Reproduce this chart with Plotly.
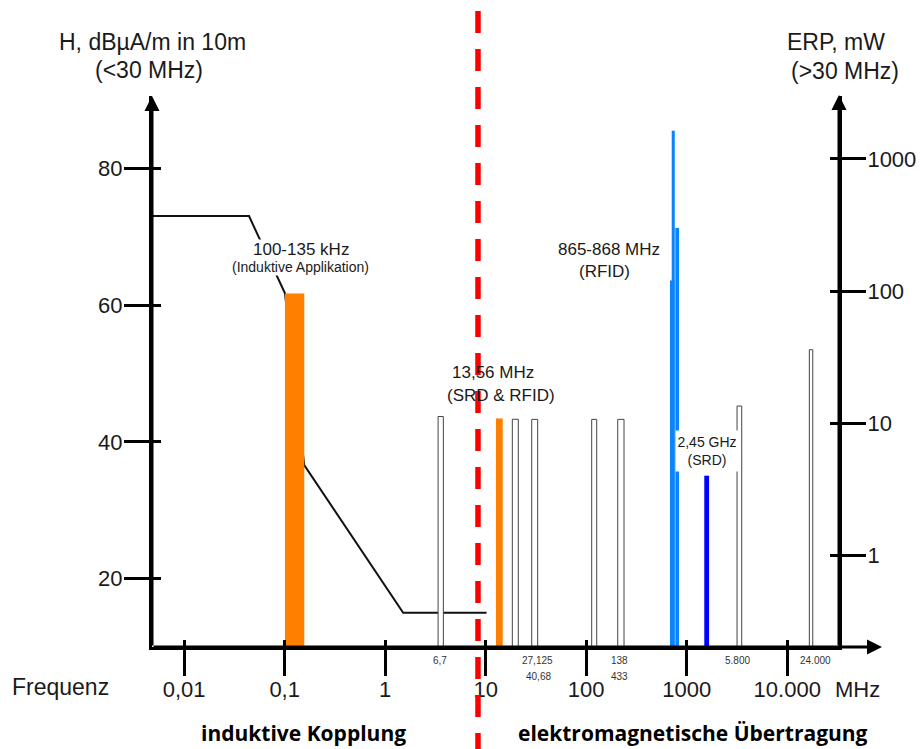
import math
import plotly.graph_objects as go

# ---------------- data ----------------
# H-field limit curve (left axis, dBµA/m in 10 m)
limit_f = [0.0048, 0.0442, 0.1007, 0.1565, 1.51, 10.2]
limit_h = [73.0, 73.0, 61.7, 36.6, 15.0, 15.0]

# bands read on the H axis (< 30 MHz)
h_band_lo = [0.1007, 3.36, 12.66, 18.4]
h_band_hi = [0.1565, 3.79, 14.76, 21.1]
h_band_val = [61.7, 43.7, 43.4, 43.3]
h_band_kind = ["orange", "ism", "orange", "ism"]

# bands read on the ERP axis (> 30 MHz), mW
erp_lo = [28.7, 113.4, 205.8, 682, 710, 771, 1496, 3167, 16590]
erp_hi = [32.9, 127.2, 237.8, 753, 760, 838, 1667, 3526, 17940]
erp_val = [10.7, 10.7, 10.7, 120, 1630, 300, 4.0, 13.5, 36]
erp_kind = ["ism", "ism", "ism", "uhf", "uhf", "uhf", "srd", "ism", "ism"]

# small band labels under the frequency axis
sub_labels = ["6,7", "27,125", "40,68", "138", "433", "5.800", "24.000"]
sub_label_f = [3.5, 32.4, 33.9, 212, 212, 3214, 18900]
sub_label_row = [0, 0, 1, 0, 1, 0, 0]

# axis ticks
x_tickvals = [0.01, 0.1, 1, 10, 100, 1000, 10000]
x_ticktext = ["0,01", "0,1", "1", "10", "100", "1000", "10.000"]
h_tickvals = [20, 40, 60, 80]
erp_tickvals = [1, 10, 100, 1000]
erp_ticktext = ["1", "10", "100", "1000"]

boundary_f = 8.38  # position of the dashed separation line

# ---------------- styling ----------------
FONT = "Liberation Sans, Arial, sans-serif"
TXT = "#1a1a1a"
KIND_STYLE = {
    "orange": dict(fill="#FF8000", line="#FF8000", w=0),
    "ism": dict(fill="#FFFFFF", line="#444444", w=1),
    "uhf": dict(fill="#0A84FF", line="#0A84FF", w=0),
    "srd": dict(fill="#0000FF", line="#0000FF", w=0),
}

X_RANGE = [-2.320, 4.515]
H_RANGE = [10, 90.56]
ERP_RANGE = [-0.693, 3.476]

fig = go.Figure()

# limit line
fig.add_trace(go.Scatter(x=limit_f, y=limit_h, mode="lines",
                         line=dict(color="#111111", width=2),
                         hoverinfo="skip", showlegend=False))


def rect(x0, x1, base, top):
    return [x0, x0, x1, x1, x0], [base, top, top, base, base]


for lo, hi, v, k in zip(h_band_lo, h_band_hi, h_band_val, h_band_kind):
    st = KIND_STYLE[k]
    xs, ys = rect(lo, hi, H_RANGE[0], v)
    fig.add_trace(go.Scatter(x=xs, y=ys, mode="lines", fill="toself",
                             fillcolor=st["fill"],
                             line=dict(color=st["line"], width=st["w"] if st["w"] else 0.1),
                             hoverinfo="skip", showlegend=False))

for lo, hi, v, k in zip(erp_lo, erp_hi, erp_val, erp_kind):
    st = KIND_STYLE[k]
    xs, ys = rect(lo, hi, 0.05, v)
    fig.add_trace(go.Scatter(x=xs, y=ys, mode="lines", fill="toself",
                             fillcolor=st["fill"],
                             line=dict(color=st["line"], width=st["w"] if st["w"] else 0.1),
                             yaxis="y2", hoverinfo="skip", showlegend=False))

# dummy traces so that the "inside" tick overlay axes are drawn
fig.add_trace(go.Scatter(x=[None], y=[None], xaxis="x2", yaxis="y", showlegend=False, hoverinfo="skip"))
fig.add_trace(go.Scatter(x=[None], y=[None], xaxis="x", yaxis="y3", showlegend=False, hoverinfo="skip"))
fig.add_trace(go.Scatter(x=[None], y=[None], xaxis="x", yaxis="y4", showlegend=False, hoverinfo="skip"))

tickfont = dict(family=FONT, size=22, color=TXT)

fig.update_layout(
    width=921, height=749,
    margin=dict(l=152, r=82, t=96, b=102, autoexpand=False),
    paper_bgcolor="white", plot_bgcolor="white",
    showlegend=False,
    font=dict(family=FONT, color=TXT),
    xaxis=dict(type="log", range=X_RANGE, tickvals=x_tickvals, ticktext=x_ticktext,
               ticks="outside", ticklen=26, tickwidth=3, tickcolor="black",
               showline=True, linewidth=3, linecolor="black",
               showgrid=False, zeroline=False, tickfont=tickfont, ticklabelstandoff=-5),
    xaxis2=dict(type="log", range=X_RANGE, overlaying="x", anchor="y", side="bottom",
                tickvals=x_tickvals, ticks="inside", ticklen=7, tickwidth=3, tickcolor="black",
                showticklabels=False, showline=False, showgrid=False, zeroline=False),
    yaxis=dict(range=H_RANGE, tickvals=h_tickvals, ticks="outside", ticklen=25, tickwidth=3,
               tickcolor="black", showline=True, linewidth=3, linecolor="black",
               showgrid=False, zeroline=False, tickfont=tickfont, ticklabelstandoff=-3),
    yaxis2=dict(type="log", range=ERP_RANGE, overlaying="y", side="right", anchor="x",
                tickvals=erp_tickvals, ticks="outside", ticklen=24, tickwidth=3, tickcolor="black",
                ticktext=erp_ticktext,
                showline=True, linewidth=3, linecolor="black",
                showgrid=False, zeroline=False, tickfont=tickfont, ticklabelstandoff=-3),
    yaxis3=dict(range=H_RANGE, overlaying="y", side="left", anchor="x",
                tickvals=h_tickvals, ticks="inside", ticklen=9, tickwidth=3, tickcolor="black",
                showticklabels=False, showline=False, showgrid=False, zeroline=False),
    yaxis4=dict(type="log", range=ERP_RANGE, overlaying="y", side="right", anchor="x",
                tickvals=erp_tickvals, ticks="inside", ticklen=9, tickwidth=3, tickcolor="black",
                showticklabels=False, showline=False, showgrid=False, zeroline=False),
)

# dashed separation line (shapes on log axes take data values)
fig.add_shape(type="line", xref="x", yref="paper",
              x0=boundary_f, x1=boundary_f, y0=1.1543, y1=-0.19,
              line=dict(color="#FF0000", width=5.5, dash="22px,16px"), layer="above")

ann = []
# axis arrows
ann.append(dict(xref="paper", yref="paper", x=0, y=1, ax=0, ay=551, text="", showarrow=True,
                arrowhead=2, arrowsize=1, arrowwidth=3, arrowcolor="black", standoff=0))
ann.append(dict(xref="paper", yref="paper", x=1, y=1.002, ax=0, ay=552, text="", showarrow=True,
                arrowhead=2, arrowsize=1, arrowwidth=3, arrowcolor="black", standoff=0))
ann.append(dict(xref="paper", yref="paper", x=1.0626, y=0, ax=-730, ay=0, text="", showarrow=True,
                arrowhead=2, arrowsize=1, arrowwidth=3, arrowcolor="black", standoff=0))


def ptxt(text, x, y, size, family=FONT, color=TXT, xanchor="center"):
    return dict(xref="paper", yref="paper", x=x, y=y, text=text, showarrow=False,
                xanchor=xanchor, yanchor="middle",
                font=dict(size=size, family=family, color=color))


ann += [
    ptxt("H, dBµA/m in 10m", 0.0, 1.0980, 23),
    ptxt("(&lt;30 MHz)", -0.004, 1.0472, 23),
    ptxt("ERP, mW", 0.9956, 1.0980, 23),
    ptxt("(&gt;30 MHz)", 1.0087, 1.0454, 23),
    ptxt("Frequenz", -0.2067, -0.0726, 23, xanchor="left"),
    ptxt("MHz", 0.9913, -0.078, 22, xanchor="left"),
    ptxt("<b>induktive Kopplung</b>", 0.2212, -0.1561, 21, family="Open Sans, sans-serif", color="black"),
    ptxt("<b>elektromagnetische Übertragung</b>", 0.7875, -0.1561, 21,
         family="Open Sans, sans-serif", color="black"),
]


# band labels in the plot
def lab(text, f, h, size, bg=None, width=None, height=None):
    d = dict(xref="x", yref="y", x=math.log10(f), y=h, text=text, showarrow=False,
             xanchor="center", yanchor="middle",
             font=dict(size=size, family=FONT, color=TXT), borderpad=0)
    if bg:
        d["bgcolor"] = bg
    if width:
        d["width"] = width
    if height:
        d["height"] = height
    return d


ann += [
    lab("100-135 kHz", 0.145, 68.19, 17, bg="white"),
    lab("(Induktive Applikation)", 0.145, 65.56, 14, bg="white"),
    lab("13,56 MHz", 11.83, 50.2, 17),
    lab("(SRD &amp; RFID)", 14.19, 46.84, 17),
    lab("865-868 MHz", 168.7, 68.19, 17),
    lab("(RFID)", 150.3, 64.87, 17),
    lab("2,45 GHz<br>(SRD)", 1592, 38.65, 14, bg="white", width=62, height=40),
]

# small sub-labels below the axis
for t, f, r in zip(sub_labels, sub_label_f, sub_label_row):
    ann.append(dict(xref="x", yref="paper", x=math.log10(f), y=-0.0236 - 0.0308 * r, text=t,
                    showarrow=False, xanchor="center", yanchor="middle",
                    font=dict(size=10, family=FONT, color="#333333")))

fig.update_layout(annotations=ann)

fig.write_html("out.html", config={"displayModeBar": False},
               post_script="document.body.style.margin='0px';")
